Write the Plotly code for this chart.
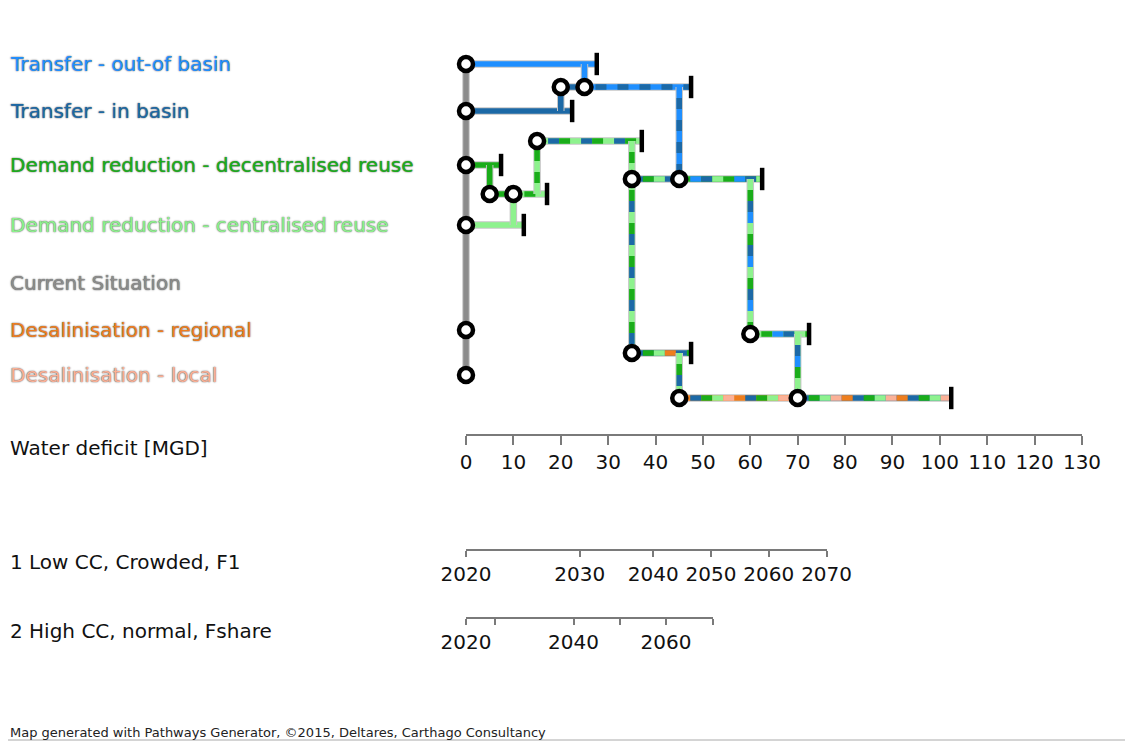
import plotly.graph_objects as go

W, H = 1133, 741

# ---------------- data ----------------
measure_names = [
    "Transfer - out-of basin",
    "Transfer - in basin",
    "Demand reduction - decentralised reuse",
    "Demand reduction - centralised reuse",
    "Current Situation",
    "Desalinisation - regional",
    "Desalinisation - local",
]
measure_colors = ["#1f8fff", "#1c69a6", "#1aad1a", "#8ef28e", "#8c8c8c", "#ee7e1e", "#fbb197"]
measure_lane = [64, 111, 165, 225, 283, 330, 375]

deficit_ticks = list(range(0, 131, 10))
deficit_max = 130
deficit_title = "Water deficit [MGD]"

scen1_name = "1 Low CC, Crowded, F1"
scen1_years = [2020, 2030, 2040, 2050, 2060, 2070]
scen1_deficit = [0, 24.0, 39.5, 51.7, 63.9, 76.1]
scen1_labels = ["2020", "2030", "2040", "2050", "2060", "2070"]

scen2_name = "2 High CC, normal, Fshare"
scen2_years = [2020, 2030, 2040, 2050, 2060, 2070]
scen2_deficit = [0, 6.1, 22.7, 32.6, 42.2, 52.1]
scen2_labels = ["2020", "", "2040", "", "2060", ""]

# pathway segments: x0, lane0, x1, lane1, measures (first = base colour)
seg_x0 = [0, 0, 0, 0, 20, 25, 5, 10, 15, 35, 45, 60, 35, 45, 70,
          0, 25, 20, 5, 10, 15, 45, 35, 35, 60, 45, 70]
seg_y0 = [64, 111, 165, 225, 87, 87, 194, 194, 141, 179, 179, 334, 353, 398, 398,
          64, 64, 111, 165, 225, 194, 87, 141, 179, 179, 353, 334]
seg_x1 = [27.6, 22.4, 7.4, 12.2, 25, 47.5, 10, 17.1, 37.1, 45, 62.5, 72.4, 47.5, 70, 102.4,
          0, 25, 20, 5, 10, 15, 45, 35, 35, 60, 45, 70]
seg_y1 = [64, 111, 165, 225, 87, 87, 194, 194, 141, 179, 179, 334, 353, 398, 398,
          375, 87, 87, 194, 194, 141, 179, 179, 353, 334, 398, 398]
seg_measures = [[0], [1], [2], [3], [1], [0, 1], [2], [3, 2], [3, 1, 2], [1, 2, 3],
                [2, 0, 1, 3], [3, 2, 0, 1], [1, 2, 3, 5], [5, 1, 2, 3, 6], [1, 2, 3, 6, 5],
                [4], [0], [1], [2], [3], [3, 2], [0, 1], [3, 2], [3, 2, 1], [3, 2, 1, 0],
                [3, 2, 1], [3, 1, 0, 2]]

node_x = [0, 0, 0, 0, 0, 0, 20, 25, 15, 5, 10, 35, 45, 60, 35, 45, 70]
node_y = [64, 111, 165, 225, 330, 375, 87, 87, 141, 194, 194, 179, 179, 334, 353, 398, 398]

end_x = [27.6, 22.4, 7.4, 12.2, 17.1, 47.5, 37.1, 62.5, 72.4, 47.5, 102.4]
end_y = [64, 111, 165, 225, 194, 87, 141, 179, 334, 353, 398]

footer = "Map generated with Pathways Generator, \u00a92015, Deltares, Carthago Consultancy"

# ---------------- layout helpers ----------------
FONT = "DejaVu Sans"
OFF = 8                            # page body margin
X0_PX, X1_PX = 466, 1082           # screen pixel span of the deficit axis
AXIS_Y_PX = 434
S1_Y_PX, S2_Y_PX = 549, 617
PAD_PX = 24                        # room left of 0 so the pathway lines are not clipped


def px(p):
    return (p - OFF) / W


def py(p):
    return 1 - (p - OFF) / H


x_dom0 = px(X0_PX)
x_dom1 = px(X1_PX)
unit = (x_dom1 - x_dom0) / deficit_max
units_per_px = deficit_max / (X1_PX - X0_PX)

fig = go.Figure()

DASH = 11
common_tr = dict(hoverinfo="skip", showlegend=False, cliponaxis=False, xaxis="x4", yaxis="y")
for x0, y0, x1, y1, ms in zip(seg_x0, seg_y0, seg_x1, seg_y1, seg_measures):
    fig.add_trace(go.Scatter(x=[x0, x1], y=[y0, y1], mode="lines",
                             line=dict(color="#c6c6c6", width=7.5), **common_tr))
    fig.add_trace(go.Scatter(x=[x0, x1], y=[y0, y1], mode="lines",
                             line=dict(color=measure_colors[ms[0]], width=5.5), **common_tr))
    n = len(ms)
    for i in range(1, n):
        dash = f"0px,{i*DASH}px,{DASH}px,{(n-1-i)*DASH}px"
        fig.add_trace(go.Scatter(x=[x0, x1], y=[y0, y1], mode="lines",
                                 line=dict(color=measure_colors[ms[i]], width=5.5, dash=dash),
                                 **common_tr))

fig.add_trace(go.Scatter(x=end_x, y=end_y, mode="markers",
                         marker=dict(symbol="line-ns", size=16,
                                     line=dict(color="black", width=4.5)), **common_tr))
fig.add_trace(go.Scatter(x=node_x, y=node_y, mode="markers",
                         marker=dict(symbol="circle", size=14, color="white",
                                     line=dict(color="black", width=4.5)), **common_tr))

# invisible traces so the axes are drawn
for xa, ya in [("x", "y"), ("x2", "y2"), ("x3", "y3")]:
    fig.add_trace(go.Scatter(x=[0], y=[AXIS_Y_PX if ya == "y" else 0], xaxis=xa, yaxis=ya,
                             mode="markers", marker=dict(opacity=0),
                             hoverinfo="skip", showlegend=False))

TICK_FONT = dict(family=FONT, size=20, color="#111")
axis_common = dict(showgrid=False, zeroline=False, showline=True, linecolor="#7a7a7a",
                   linewidth=2, ticks="outside", tickwidth=2, automargin=False,
                   tickcolor="#7a7a7a", tickfont=TICK_FONT, fixedrange=True)

s1_right = x_dom0 + unit * scen1_deficit[-1]
s2_right = x_dom0 + unit * scen2_deficit[-1]

fig.update_layout(
    width=W, height=H,
    margin=dict(l=0, r=0, t=0, b=0, autoexpand=False),
    paper_bgcolor="white", plot_bgcolor="white",
    xaxis=dict(domain=[x_dom0, x_dom1], range=[0, deficit_max], anchor="y",
               tickmode="array", tickvals=deficit_ticks, ticklen=9,
               ticktext=[str(v) for v in deficit_ticks], **axis_common),
    xaxis4=dict(domain=[px(X0_PX - PAD_PX), x_dom1],
                range=[-PAD_PX * units_per_px, deficit_max], anchor="y",
                visible=False, fixedrange=True),
    yaxis=dict(domain=[py(AXIS_Y_PX), 1], range=[AXIS_Y_PX, OFF], visible=False,
               fixedrange=True),
    xaxis2=dict(domain=[x_dom0, s1_right], range=[0, scen1_deficit[-1]], anchor="y2",
                tickmode="array", tickvals=scen1_deficit, ticktext=scen1_labels,
                ticklen=6, **axis_common),
    yaxis2=dict(domain=[py(S1_Y_PX), py(S1_Y_PX) + 0.001], visible=False, fixedrange=True),
    xaxis3=dict(domain=[x_dom0, s2_right], range=[0, scen2_deficit[-1]], anchor="y3",
                tickmode="array", tickvals=scen2_deficit, ticktext=scen2_labels,
                ticklen=6, **axis_common),
    yaxis3=dict(domain=[py(S2_Y_PX), py(S2_Y_PX) + 0.001], visible=False, fixedrange=True),
    showlegend=False,
)

LABEL_SIZE = 20
for name, col, lane in zip(measure_names, measure_colors, measure_lane):
    fig.add_annotation(text=name, x=px(8), xref="paper", y=lane, yref="y",
                       xanchor="left", yanchor="middle", showarrow=False,
                       font=dict(family=FONT, size=LABEL_SIZE, color=col,
                                 shadow="0px 0px 1.5px rgba(0,0,0,0.85)"))

for txt, ypx in [(deficit_title, 448), (scen1_name, 562), (scen2_name, 631)]:
    fig.add_annotation(text=txt, x=px(8), xref="paper", y=py(ypx), yref="paper",
                       xanchor="left", yanchor="middle", showarrow=False,
                       font=dict(family=FONT, size=LABEL_SIZE, color="#111"))

fig.add_annotation(text=footer, x=px(8), xref="paper", y=py(732), yref="paper",
                   xanchor="left", yanchor="middle", showarrow=False,
                   font=dict(family=FONT, size=13, color="#222"))

fig.add_shape(type="line", xref="paper", yref="paper", x0=0, x1=1, y0=py(740), y1=py(740),
              line=dict(color="#aaa", width=1))

fig.write_html("out.html")
